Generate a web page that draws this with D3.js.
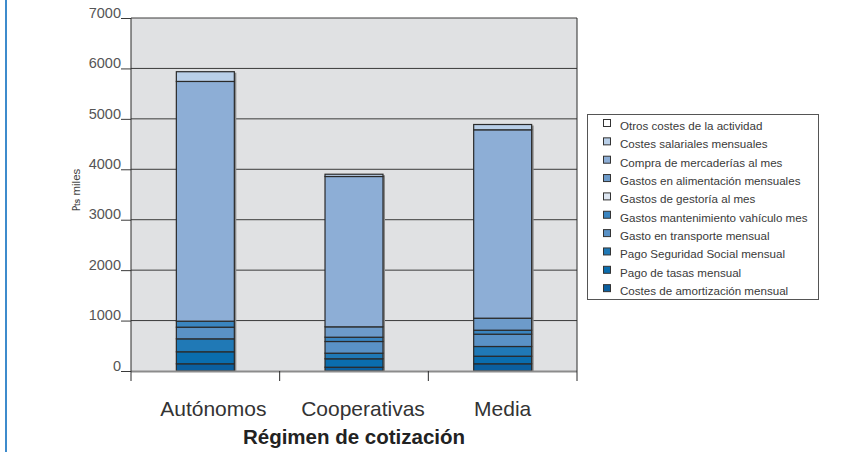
<!DOCTYPE html>
<html>
<head>
<meta charset="utf-8">
<script src="https://cdn.jsdelivr.net/npm/d3@7"></script>
<style>
  html, body { margin: 0; padding: 0; background: #ffffff; }
  svg { display: block; font-family: "Liberation Sans", Arial, sans-serif; }
</style>
</head>
<body>
<svg id="chart" width="865" height="452"></svg>
<script>
// Categories along the x axis
const categories = ["Autónomos", "Cooperativas", "Media"];

// Monthly cost components (thousands of pesetas), stacked bottom to top
const amortizacion   = [143, 75, 143];
const tasas          = [238, 167, 150];
const seguridadSocial= [257, 111, 193];
const transporte     = [231, 232, 244];
const mantenimiento  = [119, 85, 79];
const gestoria       = [0, 0, 0];
const alimentacion   = [0, 206, 238];
const compra         = [4754, 2981, 3736];
const salariales     = [193, 45, 105];
const otros          = [0, 0, 0];

// Series names, bottom of the stack first
const seriesNames = [
  "Costes de amortización mensual",
  "Pago de tasas mensual",
  "Pago Seguridad Social mensual",
  "Gasto en transporte mensual",
  "Gastos mantenimiento vahículo mes",
  "Gastos de gestoría al mes",
  "Gastos en alimentación mensuales",
  "Compra de mercaderías al mes",
  "Costes salariales mensuales",
  "Otros costes de la actividad"
];
const seriesValues = [amortizacion, tasas, seguridadSocial, transporte, mantenimiento,
                      gestoria, alimentacion, compra, salariales, otros];
const seriesColors = ["#0b5f9f", "#0a6dae", "#2079b6", "#5a92c6", "#3a85c0",
                      "#dde6f1", "#6d9bca", "#8daed6", "#b9cfe8", "#ffffff"];

const yTicks = [0, 1000, 2000, 3000, 4000, 5000, 6000, 7000];

// Build rows for d3.stack
const rows = categories.map((c, i) => {
  const r = { cat: c };
  seriesNames.forEach((s, k) => { r[s] = seriesValues[k][i]; });
  return r;
});
const stacked = d3.stack().keys(seriesNames)(rows);

const svg = d3.select("#chart");

const plot = { left: 131, right: 577, top: 18, bottom: 371 };

const x = d3.scaleBand().domain(categories).range([plot.left, plot.right]).padding(0);
const y = d3.scaleLinear().domain([0, 7000]).range([plot.bottom, plot.top]);
const barW = x.bandwidth() * 0.39;

// Page rule on the left edge
svg.append("line")
  .attr("x1", 6).attr("x2", 6).attr("y1", 0).attr("y2", 452)
  .attr("stroke", "#3d8bcc").attr("stroke-width", 2);

// Plot background
svg.append("rect")
  .attr("x", plot.left).attr("y", plot.top)
  .attr("width", plot.right - plot.left).attr("height", plot.bottom - plot.top)
  .attr("fill", "#e0e1e3");

// Horizontal gridlines with ticks on the left
const yAxis = d3.axisLeft(y).tickValues(yTicks).tickSize(10).tickPadding(0).tickFormat(d3.format("d"));
const yg = svg.append("g").attr("transform", `translate(${plot.left},0)`).call(yAxis);
yg.select(".domain").remove();
yg.selectAll(".tick line").attr("stroke", "#3a3a3a").attr("stroke-width", 1);
yg.selectAll(".tick text")
  .attr("fill", "#555").attr("font-size", 14.5).attr("dy", "-0.05em");

svg.append("g").selectAll("line.grid")
  .data(yTicks.filter(d => d > 0))
  .join("line")
  .attr("x1", plot.left).attr("x2", plot.right)
  .attr("y1", d => y(d)).attr("y2", d => y(d))
  .attr("stroke", "#3a3a3a").attr("stroke-width", 1);

// Bars
const barG = svg.append("g");
// soft shadow on the right of each bar
barG.selectAll("rect.shadow")
  .data(rows)
  .join("rect")
  .attr("x", d => x(d.cat) + (x.bandwidth() - barW) / 2 + 2)
  .attr("y", d => y(d3.sum(seriesNames, s => d[s])) + 1)
  .attr("width", barW)
  .attr("height", d => plot.bottom - y(d3.sum(seriesNames, s => d[s])))
  .attr("fill", "#8a8a8a");

stacked.forEach((layer, k) => {
  barG.append("g").selectAll("rect")
    .data(layer)
    .join("rect")
    .attr("x", d => x(d.data.cat) + (x.bandwidth() - barW) / 2)
    .attr("y", d => y(d[1]))
    .attr("width", barW)
    .attr("height", d => y(d[0]) - y(d[1]))
    .attr("fill", seriesColors[k])
    .attr("stroke", "#2a2a2a")
    .attr("stroke-width", 1.2);
});

// Baseline and frame
svg.append("line")
  .attr("x1", plot.left).attr("x2", plot.right)
  .attr("y1", y(0) + 0.5).attr("y2", y(0) + 0.5)
  .attr("stroke", "#8c8c8c").attr("stroke-width", 2);
svg.append("line")
  .attr("x1", plot.left).attr("x2", plot.left)
  .attr("y1", plot.top).attr("y2", 381)
  .attr("stroke", "#2a2a2a").attr("stroke-width", 1);
svg.append("line")
  .attr("x1", plot.right).attr("x2", plot.right)
  .attr("y1", plot.top).attr("y2", 381)
  .attr("stroke", "#2a2a2a").attr("stroke-width", 1);

// Category axis: ticks at band boundaries
const bounds = categories.map(c => x(c)).concat([plot.right]);
svg.append("g").selectAll("line.xt")
  .data(bounds.slice(1, -1))
  .join("line")
  .attr("x1", d => d).attr("x2", d => d)
  .attr("y1", plot.bottom).attr("y2", 381)
  .attr("stroke", "#2a2a2a");

// category labels sit a little right of the band centre, as in the layout
const labelShift = [8, 9, 0];
svg.append("g").selectAll("text.cat")
  .data(categories)
  .join("text")
  .attr("x", (d, i) => x(d) + x.bandwidth() / 2 + labelShift[i])
  .attr("y", 416)
  .attr("text-anchor", "middle")
  .attr("font-size", 21)
  .attr("fill", "#333")
  .text(d => d);

// Axis titles
svg.append("text")
  .attr("x", 354).attr("y", 444)
  .attr("text-anchor", "middle")
  .attr("font-size", 20.5)
  .attr("font-weight", "bold")
  .attr("fill", "#222")
  .text("Régimen de cotización");

svg.append("text")
  .attr("transform", "translate(80,190) rotate(-90)")
  .attr("text-anchor", "middle")
  .attr("font-size", 11.5)
  .attr("fill", "#444")
  .text("₧ miles");

// Legend
const lg = svg.append("g");
lg.append("rect")
  .attr("x", 587.5).attr("y", 114.5).attr("width", 231).attr("height", 185)
  .attr("fill", "#ffffff").attr("stroke", "#555").attr("stroke-width", 1);

const legendItems = seriesNames.map((s, k) => ({ name: s, color: seriesColors[k] })).reverse();
const li = lg.selectAll("g.item")
  .data(legendItems)
  .join("g")
  .attr("transform", (d, i) => `translate(0,${126 + i * 18.35})`);
li.append("rect")
  .attr("x", 603.5).attr("y", -6.5).attr("width", 7).attr("height", 7)
  .attr("fill", d => d.color).attr("stroke", "#333").attr("stroke-width", 1);
li.append("text")
  .attr("x", 620).attr("y", 4)
  .attr("font-size", 11.6)
  .attr("fill", "#3a3a3a")
  .text(d => d.name);
</script>
</body>
</html>
